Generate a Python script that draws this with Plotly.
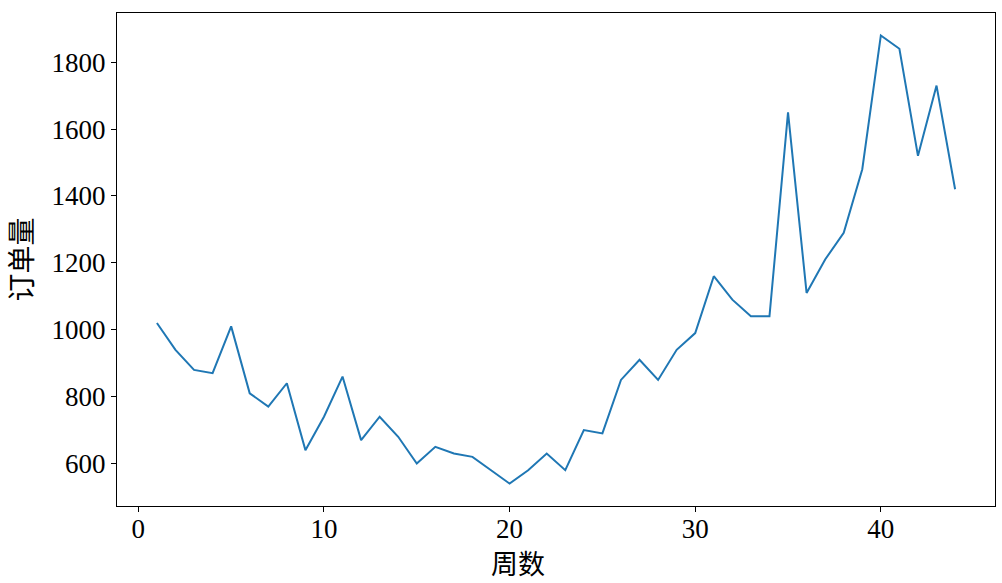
import plotly.graph_objects as go

# weekly order counts
weeks = list(range(1, 45))
orders = [1020, 940, 880, 870, 1010, 810, 770, 840, 640, 740,
          860, 670, 740, 680, 600, 650, 630, 620, 580, 540,
          580, 630, 580, 700, 690, 850, 910, 850, 940, 990,
          1160, 1090, 1040, 1040, 1650, 1110, 1210, 1290, 1480, 1880,
          1840, 1520, 1730, 1420]

x_ticks = [0, 10, 20, 30, 40]
y_ticks = [600, 800, 1000, 1200, 1400, 1600, 1800]

serif = '"Liberation Serif", "Noto Sans CJK SC", serif'
cjk = '"Noto Sans CJK SC", sans-serif'

fig = go.Figure()
fig.add_trace(go.Scatter(
    x=weeks, y=orders,
    mode='lines',
    line=dict(color='#1f77b4', width=2),
    showlegend=False
))

# matplotlib-like 5% padding around the data
xpad = (max(weeks) - min(weeks)) * 0.05
ypad = (max(orders) - min(orders)) * 0.05

axis_common = dict(
    showgrid=False, zeroline=False, automargin=False,
    showline=True, linecolor='black', linewidth=1, mirror=True,
    ticks='outside', ticklen=5, tickwidth=1, tickcolor='black',
    tickfont=dict(family=serif, size=27, color='black'),
)

fig.update_layout(
    width=1002, height=583,
    paper_bgcolor='white', plot_bgcolor='white',
    margin=dict(l=117, r=7, t=13, b=77),
    xaxis=dict(
        range=[min(weeks) - xpad, max(weeks) + xpad],
        tickvals=x_ticks,
        ticklabelstandoff=-6,
        **axis_common
    ),
    yaxis=dict(
        range=[min(orders) - ypad, max(orders) + ypad],
        tickvals=y_ticks,
        title=dict(text='订单量', font=dict(family=cjk, size=28, color='black'), standoff=14),
        **axis_common
    ),
)

# x label sits a bit left of the axes centre in the original
fig.add_annotation(
    text='周数', xref='paper', yref='paper', x=0.457, y=0,
    xanchor='center', yanchor='middle', yshift=-56, showarrow=False,
    font=dict(family=cjk, size=27, color='black')
)

# drop the default body margin so the chart sits at the page corner
fig.write_html("out.html", config={'displayModeBar': False},
               post_script="document.body.style.margin='0';")
